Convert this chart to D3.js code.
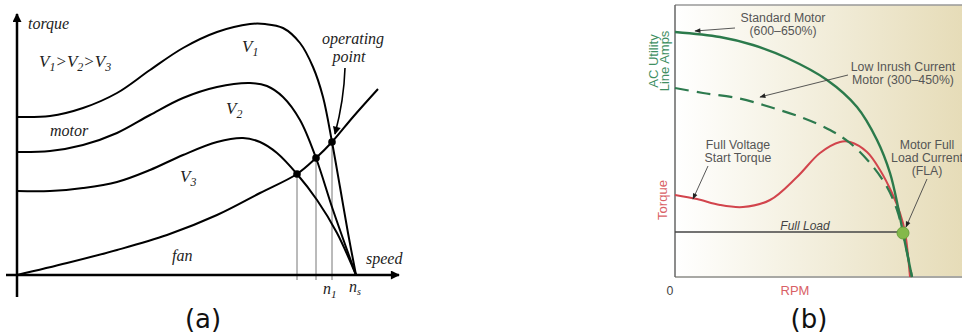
<!DOCTYPE html>
<html>
<head>
<meta charset="utf-8">
<script src="https://cdn.jsdelivr.net/npm/d3@7"></script>
<style>
  body { margin: 0; background: #fff; }
  svg { display: block; }
  .serif { font-family: "Liberation Serif", "DejaVu Serif", serif; font-style: italic; fill: #222; }
  .note { font-family: "Liberation Sans", Arial, sans-serif; font-size: 12.3px; }
  .cap { font-family: "DejaVu Sans", sans-serif; font-size: 26px; fill: #111; }
</style>
</head>
<body>
<svg id="chart" width="962" height="336"></svg>
<script>
// ---- panel (a): torque vs speed, [speed, torque] in arbitrary units (ns = 339)
const v1Curve = [[0,158],[33,159],[66,167],[100,182],[133,205],[166,227],[200,243],[233,251],[248,251],[266,247],[283,232],[296,208],[306,178],[315,133],[323,88],[331,42],[339,0]];
const v2Curve = [[0,123],[33,124],[66,130],[100,142],[133,160],[166,177],[200,188],[233,192],[250,189],[266,178],[283,155],[299,117],[316,65],[339,0]];
const v3Curve = [[0,84],[33,84],[66,87],[100,93],[133,105],[166,120],[200,133],[226,137],[243,133],[260,122],[280,101],[300,75],[320,42],[339,0]];
const fanCurve = [[0,0],[50,12],[100,25],[150,40],[200,60],[243,82],[280,101],[299,117],[315,133],[336,158],[361,186]];
const operatingPoints = [[280,101],[299,117],[315,133]];
const nsSpeed = 339;

// ---- panel (b): amps / torque vs RPM, [rpm, value] arbitrary units
const standardMotor = [[0,245],[45,240],[78,232],[112,219],[152,197],[182,170],[202,137],[215,104],[223,70],[228,44],[237,0]];
const lowInrush = [[0,189],[28,184],[62,179],[95,170],[128,159],[155,147],[175,134],[195,114],[212,90],[222,67],[228,44],[237,0]];
const startTorque = [[0,82],[22,78],[45,72],[68,70],[95,77],[122,100],[145,124],[165,135],[175,135],[192,125],[205,107],[217,84],[225,64],[230,45],[235,0]];
const fullLoad = 45;
const flaPoint = [228, 44];

const svg = d3.select('#chart');

// arrow markers
const defs = svg.append('defs');
defs.append('marker').attr('id', 'axisHead')
  .attr('viewBox', '0 0 10 10').attr('refX', 9).attr('refY', 5)
  .attr('markerWidth', 5).attr('markerHeight', 3.6).attr('markerUnits', 'strokeWidth')
  .attr('orient', 'auto')
  .append('path').attr('d', 'M0,0 L10,5 L0,10 Z').attr('fill', '#000');
defs.append('marker').attr('id', 'noteHead')
  .attr('viewBox', '0 0 10 10').attr('refX', 9).attr('refY', 5)
  .attr('markerWidth', 7).attr('markerHeight', 6).attr('markerUnits', 'userSpaceOnUse')
  .attr('orient', 'auto')
  .append('path').attr('d', 'M0,1 L10,5 L0,9 Z').attr('fill', '#222');
defs.append('marker').attr('id', 'opHead')
  .attr('viewBox', '0 0 10 10').attr('refX', 9).attr('refY', 5)
  .attr('markerWidth', 9).attr('markerHeight', 8).attr('markerUnits', 'userSpaceOnUse')
  .attr('orient', 'auto')
  .append('path').attr('d', 'M0,0 L10,5 L0,10 Z').attr('fill', '#000');

// ================= panel (a) =================
const xA = d3.scaleLinear().domain([0, 383]).range([17, 400]);
const yA = d3.scaleLinear().domain([0, 250]).range([275, 25]);
const lineA = d3.line().x(d => xA(d[0])).y(d => yA(d[1])).curve(d3.curveCatmullRom.alpha(0.5));

const gA = svg.append('g');

// drop lines from operating points
gA.selectAll('line.drop').data(operatingPoints).join('line')
  .attr('x1', d => xA(d[0])).attr('x2', d => xA(d[0]))
  .attr('y1', d => yA(d[1])).attr('y2', yA(0) + 5)
  .attr('stroke', '#777').attr('stroke-width', 1);

// axes
gA.append('line').attr('x1', 17).attr('y1', 297).attr('x2', 17).attr('y2', 14)
  .attr('stroke', '#000').attr('stroke-width', 2.5).attr('marker-end', 'url(#axisHead)');
gA.append('line').attr('x1', 6).attr('y1', yA(0)).attr('x2', 399).attr('y2', yA(0))
  .attr('stroke', '#000').attr('stroke-width', 2.5).attr('marker-end', 'url(#axisHead)');

gA.selectAll('path.curve').data([v1Curve, v2Curve, v3Curve, fanCurve]).join('path')
  .attr('class', 'curve')
  .attr('d', lineA)
  .attr('fill', 'none').attr('stroke', '#000').attr('stroke-width', 2);

gA.selectAll('circle.op').data(operatingPoints).join('circle')
  .attr('cx', d => xA(d[0])).attr('cy', d => yA(d[1])).attr('r', 3.8).attr('fill', '#000');

// operating point arrow
gA.append('path').attr('d', 'M345,68 Q344,100 335,134')
  .attr('fill', 'none').attr('stroke', '#000').attr('stroke-width', 1.6)
  .attr('marker-end', 'url(#opHead)');

// labels for panel (a)
function sub(sel, main, s, x, y, size) {
  const t = sel.append('text').attr('class', 'serif').attr('x', x).attr('y', y).attr('font-size', size);
  t.append('tspan').text(main);
  t.append('tspan').attr('dy', 4).attr('font-size', size * 0.7).text(s);
  return t;
}
gA.append('text').attr('class', 'serif').attr('x', 28).attr('y', 29).attr('font-size', 16).text('torque');
const ineq = gA.append('text').attr('class', 'serif').attr('x', 39).attr('y', 67).attr('font-size', 17);
['1', '2', '3'].forEach((n, i) => {
  ineq.append('tspan').attr('dy', 0).text('V');
  ineq.append('tspan').attr('dy', 4).attr('font-size', 12).text(n);
  if (i < 2) ineq.append('tspan').attr('dy', -4).text('>');
});
gA.append('text').attr('class', 'serif').attr('x', 50).attr('y', 136).attr('font-size', 16).text('motor');
sub(gA, 'V', '1', 242, 52, 17);
sub(gA, 'V', '2', 226, 114, 17);
sub(gA, 'V', '3', 180, 182, 17);
gA.append('text').attr('class', 'serif').attr('x', 172).attr('y', 261).attr('font-size', 16).text('fan');
gA.append('text').attr('class', 'serif').attr('x', 353).attr('y', 44).attr('font-size', 16)
  .attr('text-anchor', 'middle').text('operating');
gA.append('text').attr('class', 'serif').attr('x', 349).attr('y', 62).attr('font-size', 16)
  .attr('text-anchor', 'middle').text('point');
gA.append('text').attr('class', 'serif').attr('x', 366).attr('y', 264).attr('font-size', 16).text('speed');
sub(gA, 'n', '1', 323, 294, 16);
const ns = gA.append('text').attr('class', 'serif').attr('x', xA(nsSpeed) - 7).attr('y', 292).attr('font-size', 16);
ns.append('tspan').text('n');
ns.append('tspan').attr('dy', 3).attr('font-size', 10).text('s');

svg.append('text').attr('class', 'cap').attr('x', 203).attr('y', 328).attr('text-anchor', 'middle').text('(a)');

// ================= panel (b) =================
const xB = d3.scaleLinear().domain([0, 287]).range([675, 962]);
const yB = d3.scaleLinear().domain([0, 272]).range([277, 5]);
const lineB = d3.line().x(d => xB(d[0])).y(d => yB(d[1])).curve(d3.curveCatmullRom.alpha(0.5));

const grad = defs.append('linearGradient').attr('id', 'bg').attr('x1', 0).attr('x2', 1).attr('y1', 0).attr('y2', 0);
grad.append('stop').attr('offset', '0%').attr('stop-color', '#ffffff');
grad.append('stop').attr('offset', '35%').attr('stop-color', '#f6f3e6');
grad.append('stop').attr('offset', '100%').attr('stop-color', '#e6dcb8');

const gB = svg.append('g');
gB.append('rect').attr('x', xB(0)).attr('y', yB(272)).attr('width', 962 - xB(0)).attr('height', yB(0) - yB(272))
  .attr('fill', 'url(#bg)');
// frame
gB.append('line').attr('x1', xB(0)).attr('x2', 962).attr('y1', yB(272)).attr('y2', yB(272))
  .attr('stroke', '#999').attr('stroke-width', 1.5);
gB.append('line').attr('x1', xB(0)).attr('x2', 962).attr('y1', yB(0)).attr('y2', yB(0))
  .attr('stroke', '#a8a8a4').attr('stroke-width', 2);
gB.append('line').attr('x1', xB(0)).attr('x2', xB(0)).attr('y1', yB(272)).attr('y2', yB(0))
  .attr('stroke', '#666').attr('stroke-width', 1.5);

// full load line
gB.append('line').attr('x1', xB(0)).attr('x2', xB(flaPoint[0]) - 4)
  .attr('y1', yB(fullLoad)).attr('y2', yB(fullLoad))
  .attr('stroke', '#444').attr('stroke-width', 1.3);

gB.append('path').attr('d', lineB(startTorque))
  .attr('fill', 'none').attr('stroke', '#d2444c').attr('stroke-width', 2);
gB.append('path').attr('d', lineB(lowInrush))
  .attr('fill', 'none').attr('stroke', '#2d7a4e').attr('stroke-width', 2.2)
  .attr('stroke-dasharray', '14,8');
gB.append('path').attr('d', lineB(standardMotor))
  .attr('fill', 'none').attr('stroke', '#2b7a4b').attr('stroke-width', 2.4);

gB.append('circle').attr('cx', xB(flaPoint[0])).attr('cy', yB(flaPoint[1])).attr('r', 6)
  .attr('fill', '#84b94a').attr('stroke', '#6aa23e').attr('stroke-width', 1);

// annotations
function note(lines, x, y) {
  const t = gB.append('text').attr('class', 'note').attr('text-anchor', 'middle').style('fill', '#555');
  lines.forEach((s, i) => t.append('tspan').attr('x', x).attr('y', y + i * 13).text(s));
}
note(['Standard Motor', '(600–650%)'], 783, 22);
note(['Low Inrush Current', 'Motor (300–450%)'], 903, 71);
note(['Full Voltage', 'Start Torque'], 738, 149);
note(['Motor Full', 'Load Current', '(FLA)'], 927, 149);

const noteArrows = [
  [[735, 28], [695, 31]],
  [[848, 75], [760, 97]],
  [[708, 166], [693, 199]],
  [[927, 179], [906, 227]]
];
gB.selectAll('line.na').data(noteArrows).join('line')
  .attr('x1', d => d[0][0]).attr('y1', d => d[0][1])
  .attr('x2', d => d[1][0]).attr('y2', d => d[1][1])
  .attr('stroke', '#444').attr('stroke-width', 0.9)
  .attr('marker-end', 'url(#noteHead)');

gB.append('text').attr('class', 'note').attr('x', 805).attr('y', 230).attr('text-anchor', 'middle')
  .style('font-style', 'italic').style('font-size', '12px').style('fill', '#444').text('Full Load');

gB.append('text').attr('class', 'note').attr('x', 670).attr('y', 295).attr('text-anchor', 'middle')
  .style('fill', '#444').text('0');
gB.append('text').attr('class', 'note').attr('x', 795).attr('y', 295).attr('text-anchor', 'middle')
  .style('fill', '#d95f66').style('font-size', '13px').text('RPM');

const ac = gB.append('text').attr('class', 'note').attr('transform', 'translate(658,61) rotate(-90)')
  .attr('text-anchor', 'middle').style('fill', '#3f8f62').style('font-size', '13px');
ac.append('tspan').attr('x', 0).attr('y', 0).text('AC Utility');
ac.append('tspan').attr('x', 0).attr('y', 11).text('Line Amps');
gB.append('text').attr('class', 'note').attr('transform', 'translate(667,200) rotate(-90)')
  .attr('text-anchor', 'middle').style('fill', '#d95f66').style('font-size', '13px').text('Torque');

svg.append('text').attr('class', 'cap').attr('x', 809).attr('y', 328).attr('text-anchor', 'middle').text('(b)');
</script>
</body>
</html>
